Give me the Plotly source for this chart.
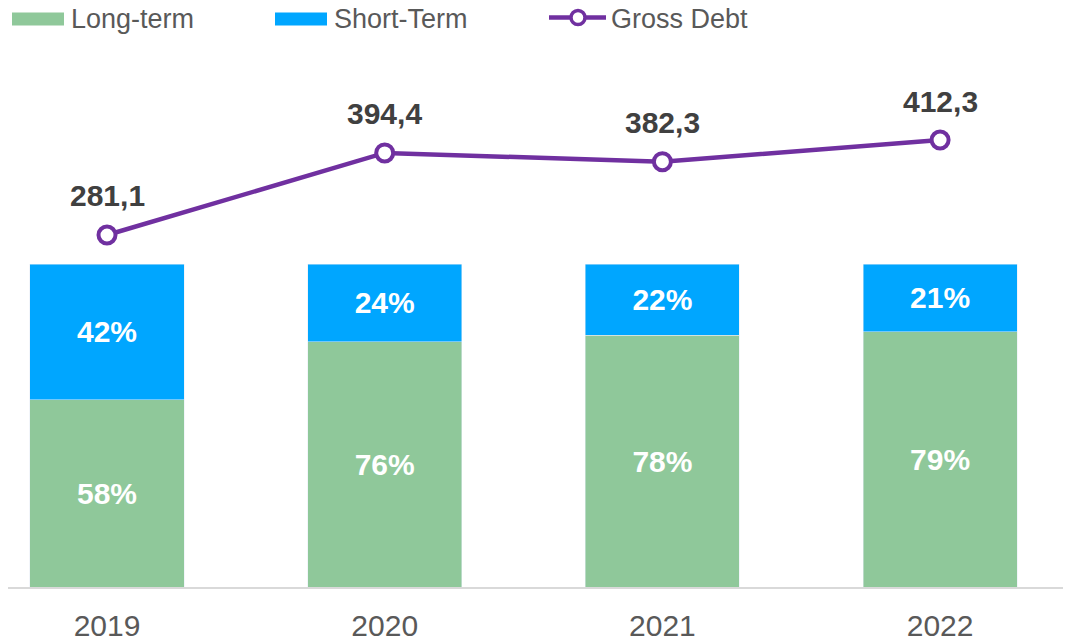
import plotly.graph_objects as go

years = ['2019', '2020', '2021', '2022']
long_term = [58, 76, 78, 79]
short_term = [42, 24, 22, 21]
gross_debt = [281.1, 394.4, 382.3, 412.3]

legend_names = ['Long-term', 'Short-Term', 'Gross Debt']
GREEN, BLUE, PURPLE = '#8FC89A', '#00A6FF', '#7030A0'
FONT = 'Liberation Sans, Arial, sans-serif'

# page body has an 8px margin, figure is sized to the visible area
W, H = 1063, 634
M_TOP, M_BOT = 52, 55
PLOT_H = H - M_TOP - M_BOT


def fmt(v):
    return f'{v:.1f}'.replace('.', ',')


def px(x):  # screen x -> paper x
    return (x - 8) / W


def py(y):  # screen y -> paper y
    return (H - M_BOT - (y - 8)) / PLOT_H


fig = go.Figure()
fig.add_trace(go.Bar(
    x=years, y=long_term, name=legend_names[0],
    marker_color=GREEN, width=0.555,
    text=[f'{v}%' for v in long_term], textposition='inside',
    insidetextanchor='middle',
    textfont=dict(color='white', size=30, family=FONT, weight='bold'),
))
fig.add_trace(go.Bar(
    x=years, y=short_term, name=legend_names[1],
    marker_color=BLUE, width=0.555,
    text=[f'{v}%' for v in short_term], textposition='inside',
    insidetextanchor='middle',
    textfont=dict(color='white', size=30, family=FONT, weight='bold'),
))
fig.add_trace(go.Scatter(
    x=years, y=gross_debt, name=legend_names[2], yaxis='y2',
    mode='lines+markers',
    line=dict(color=PURPLE, width=4.5),
    marker=dict(size=17, color='white', line=dict(color=PURPLE, width=4)),
))

# value labels above the line markers
for i, v in enumerate(gross_debt):
    fig.add_annotation(
        x=i, y=v, xref='x', yref='y2', text=fmt(v), showarrow=False,
        yshift=39, font=dict(size=30, color='#404040', family=FONT, weight='bold'),
    )

# hand-drawn legend (wide swatches like the original)
fig.add_shape(type='rect', xref='paper', yref='paper',
              x0=px(12), x1=px(64), y0=py(25.5), y1=py(12.5),
              fillcolor=GREEN, line_width=0)
fig.add_shape(type='rect', xref='paper', yref='paper',
              x0=px(275), x1=px(327), y0=py(25.5), y1=py(12.5),
              fillcolor=BLUE, line_width=0)
fig.add_shape(type='line', xref='paper', yref='paper',
              x0=px(549), x1=px(606), y0=py(17.5), y1=py(17.5),
              line=dict(color=PURPLE, width=4.5))
fig.add_shape(type='circle', xref='paper', yref='paper',
              x0=px(571), x1=px(585), y0=py(24.5), y1=py(10.5),
              fillcolor='white', line=dict(color=PURPLE, width=3.5))
for name, xs in zip(legend_names, [69, 332, 609]):
    fig.add_annotation(
        x=px(xs), y=py(19), xref='paper', yref='paper', text=name,
        showarrow=False, xanchor='left', yanchor='middle',
        font=dict(size=27, color='#595959', family=FONT),
    )

fig.update_layout(
    width=W, height=H,
    margin=dict(l=0, r=0, t=M_TOP, b=M_BOT),
    barmode='stack',
    plot_bgcolor='white', paper_bgcolor='white',
    font=dict(family=FONT, color='#595959'),
    showlegend=False,
    xaxis=dict(
        type='category', range=[-0.3565, 3.4714],
        showgrid=False, zeroline=False,
        showline=True, linecolor='#D9D9D9', linewidth=2,
        tickfont=dict(size=30, color='#595959', family=FONT),
        ticklabelstandoff=11, automargin=False,
    ),
    yaxis=dict(range=[0, PLOT_H / 3.23], visible=False, showgrid=False),
    yaxis2=dict(range=[-205.1, 522.8], overlaying='y', visible=False, showgrid=False),
)

fig.write_html('out.html')
